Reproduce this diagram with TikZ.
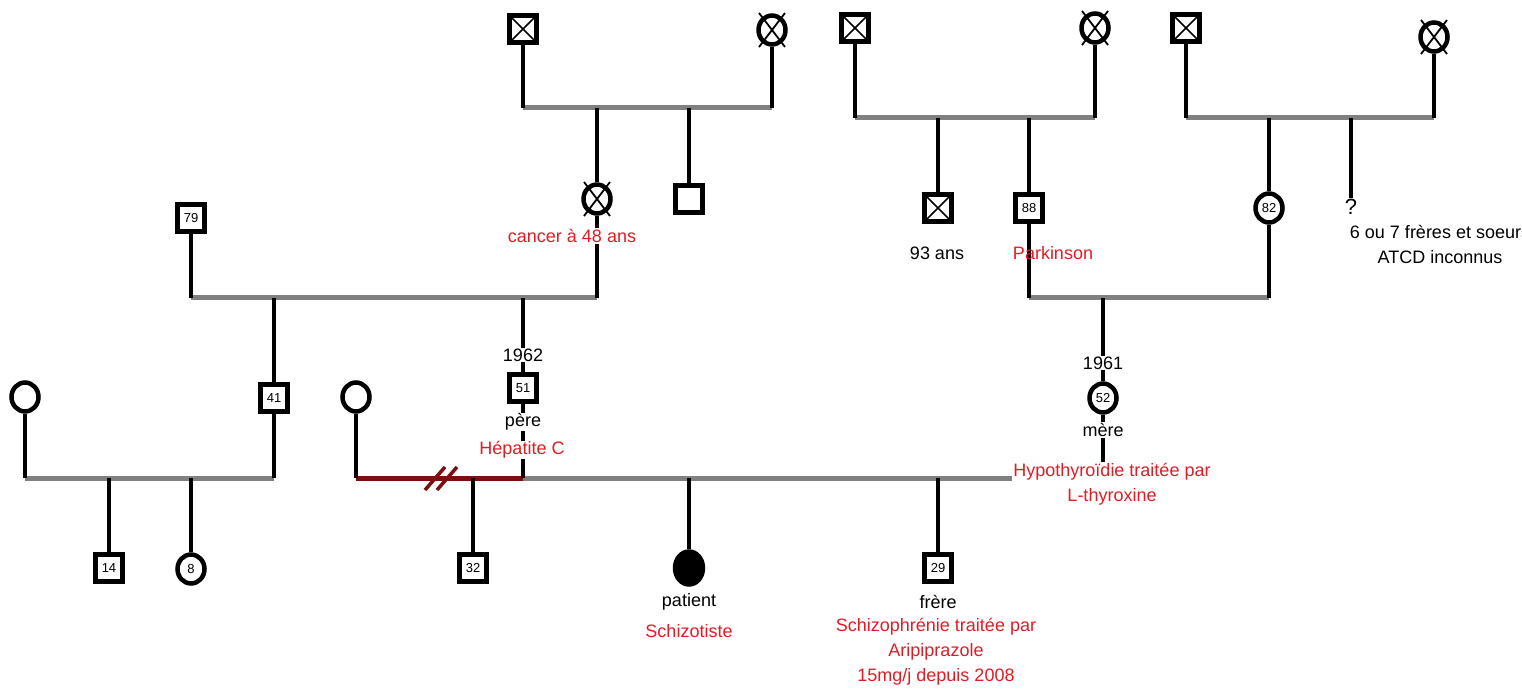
\documentclass[tikz,border=0pt]{standalone}
\usepackage{fontspec}
\setmainfont{Liberation Sans}
\usetikzlibrary{shapes.geometric,backgrounds}
\definecolor{lineGrey}{RGB}{128,128,128}
\definecolor{noteRed}{RGB}{226,28,36}
\definecolor{splitRed}{RGB}{122,16,16}
\tikzset{
  male/.style={draw,rectangle,line width=4.5pt,minimum size=27pt,inner sep=0pt,fill=white,font=\fontsize{13}{15}\selectfont},
  female/.style={draw,ellipse,line width=4.5pt,minimum width=27pt,minimum height=29pt,inner sep=0pt,fill=white,font=\fontsize{13}{15}\selectfont},
  dead/.style={path picture={\draw[line width=1.6pt] (path picture bounding box.north west) -- (path picture bounding box.south east) (path picture bounding box.north east) -- (path picture bounding box.south west);}},
  txt/.style={font=\fontsize{18}{25}\selectfont,inner sep=1pt},
  note/.style={txt,text=noteRed},
  kin/.style={line width=4.5pt},
  union/.style={line width=5pt,lineGrey}
}
\begin{document}
\begin{tikzpicture}[x=1pt,y=-1pt]
\useasboundingbox (0,0) rectangle (1522,692);
% top row
\node[male,dead] (aM) at (523,29) {};
\node[female] (aF) at (772,30) {};
\node[male,dead] (bM) at (855,28) {};
\node[female] (bF) at (1095,28) {};
\node[male,dead] (cM) at (1186,28) {};
\node[female] (cF) at (1434,37) {};
\foreach \n in {aF,bF,cF}
\draw[line width=1.8pt] ([shift={(-13,-17)}]\n.center) -- ([shift={(13,17)}]\n.center) ([shift={(13,-17)}]\n.center) -- ([shift={(-13,17)}]\n.center);
% grand-parents
\node[female] (gmp) at (597,199) {};
\draw[line width=1.8pt] ([shift={(-13,-17)}]gmp.center) -- ([shift={(13,17)}]gmp.center) ([shift={(13,-17)}]gmp.center) -- ([shift={(-13,17)}]gmp.center);
\node[male] (gmpBro) at (689,199) {};
\node[male,dead] (bSon) at (938,208) {};
\node[male] (gfm) at (1029,208) {88};
\node[female] (gmm) at (1269,208) {82};
\node[font=\fontsize{22}{26}\selectfont,inner sep=1pt] (cSib) at (1351,207) {?};
\node[male] (gfp) at (191,218) {79};
% parents
\node[female] (uncleW) at (25,397) {};
\node[male] (uncle) at (274,398) {41};
\node[female] (exW) at (356,397) {};
\node[male] (father) at (523,388) {51};
\node[female] (mother) at (1103,398) {52};
% children
\node[male] (cousinA) at (109,568) {14};
\node[female] (cousinB) at (191,569) {8};
\node[male] (halfBro) at (473,568) {32};
\node[female,fill=black,minimum width=28pt,minimum height=33pt] (patient) at (689,568) {};
\node[male] (brother) at (938,568) {29};
% labels
\node[note,fill=white] (gmpNote) at (572,236) {cancer à 48 ans};
\node[txt] (bSonNote) at (937,253) {93 ans};
\node[note] (gfmNote) at (1053,253) {Parkinson};
\node[txt,align=center] (cSibNote) at (1440,244) {6 ou 7 frères et soeurs\\ATCD inconnus};
\node[txt,fill=white] (fatherYear) at (523,355) {1962};
\node[txt,fill=white] (fatherName) at (523,422) {père};
\node[note,fill=white] (fatherNote) at (522,450) {Hépatite C};
\node[txt,fill=white] (motherYear) at (1103,363) {1961};
\node[txt,fill=white] (motherName) at (1103,430) {mère};
\node[note,fill=white,align=center] (motherNote) at (1112,484) {Hypothyroïdie traitée par\\L-thyroxine};
\node[txt] (patientName) at (689,602) {patient};
\node[note] (patientNote) at (689,631) {Schizotiste};
\node[txt] (brotherName) at (938,602) {frère};
\node[note,align=center] (brotherNote) at (936,652) {Schizophrénie traitée par\\Aripiprazole\\15mg/j depuis 2008};
% lines
\coordinate (mA) at (597,108);
\coordinate (mB) at (938,118);
\coordinate (mC) at (1269,118);
\coordinate (mG) at (274,298);
\coordinate (mH) at (1103,298);
\coordinate (mU) at (109,478);
\coordinate (mX) at (473,478);
\coordinate (cut) at (441,478);
\begin{scope}[on background layer]
\draw[union] (aM |- mA) -- (aF |- mA);
\draw[union] (bM |- mB) -- (bF |- mB);
\draw[union] (cM |- mC) -- (cF |- mC);
\draw[union] (gfp |- mG) -- (gmp |- mG);
\draw[union] (gfm |- mH) -- (gmm |- mH);
\draw[union] (uncleW |- mU) -- (uncle |- mU);
\draw[union] (father |- mX) -- (mother |- mX);
\draw[splitRed,line width=5pt] (exW |- mX) -- (father |- mX);
\foreach \n/\m in {aM/mA,aF/mA,gmp/mA,gmpBro/mA,bM/mB,bF/mB,bSon/mB,gfm/mB,cM/mC,cF/mC,gmm/mC,cSib/mC,
  gfp/mG,gmp/mG,uncle/mG,father/mG,gfm/mH,gmm/mH,mother/mH,uncleW/mU,uncle/mU,cousinA/mU,cousinB/mU,
  exW/mX,father/mX,halfBro/mX,mother/mX,patient/mX,brother/mX}
\draw[kin] (\n) -- (\n |- \m);
\end{scope}
\draw[splitRed,line width=3.5pt] ([shift={(-16,12)}]cut) -- ([shift={(4,-11)}]cut) ([shift={(-4,12)}]cut) -- ([shift={(16,-11)}]cut);
\end{tikzpicture}
\end{document}
